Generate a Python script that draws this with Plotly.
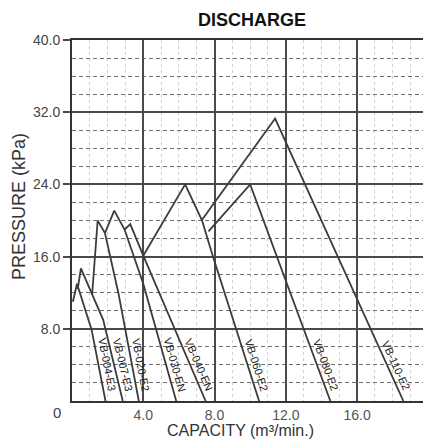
import math
import plotly.graph_objects as go

# ---- data ----
models = ["VB-004-E3", "VB-007-E3", "VB-020-E2", "VB-030-EN",
          "VB-040-EN", "VB-060-E2", "VB-080-E2", "VB-110-E2"]
cap = [
    [0.05, 0.28, 1.10, 1.88],
    [0.32, 0.50, 1.75, 2.85],
    [1.13, 1.44, 1.85, 2.60, 3.75],
    [1.85, 2.37, 2.95, 4.00, 5.85],
    [2.95, 3.27, 4.00, 7.50],
    [4.00, 6.35, 7.30, 7.85, 10.50],
    [7.66, 10.00, 14.50],
    [7.29, 11.40, 18.60],
]
pres = [
    [11.0, 13.0, 7.9, 0.0],
    [12.4, 14.7, 9.0, 0.0],
    [11.8, 20.0, 18.6, 12.0, 0.0],
    [18.6, 21.1, 19.0, 13.0, 0.0],
    [19.0, 19.6, 16.1, 0.0],
    [16.1, 24.0, 20.0, 16.4, 0.0],
    [18.8, 24.0, 0.0],
    [20.05, 31.3, 0.0],
]

y_ticks = [8, 16, 24, 32, 40]
y_tick_text = ["8.0", "16.0", "24.0", "32.0", "40.0"]
x_ticks = [4, 8, 12, 16]
x_tick_text = ["4.0", "8.0", "12.0", "16.0"]

FONT = "Liberation Sans, Arial, sans-serif"
LINE = "#3c3c3c"
X_RANGE = [0, 19.7]
Y_RANGE = [0, 40]
W, H = 424, 439
ML, MR, MT, MB = 72, 1, 40, 38
PX_X = (W - ML - MR) / (X_RANGE[1] - X_RANGE[0])
PX_Y = (H - MT - MB) / (Y_RANGE[1] - Y_RANGE[0])

fig = go.Figure()
for m, xs, ys in zip(models, cap, pres):
    fig.add_trace(go.Scatter(x=xs, y=ys, mode="lines", name=m,
                             line=dict(color=LINE, width=1.8),
                             showlegend=False, hoverinfo="skip"))

# labels sit alongside the last (descending) segment of each curve
LABEL_LEVEL = 4.0
for m, xs, ys in zip(models, cap, pres):
    x1, y1, x2, y2 = xs[-2], ys[-2], xs[-1], ys[-1]
    t = (y1 - LABEL_LEVEL) / (y1 - y2)
    lx = x1 + (x2 - x1) * t
    ang = math.degrees(math.atan2((y1 - y2) * PX_Y, (x2 - x1) * PX_X))
    fig.add_annotation(x=lx, y=LABEL_LEVEL, text=m, showarrow=False,
                       textangle=ang, xshift=9,
                       font=dict(family=FONT, size=11, color="#222"))

fig.add_annotation(xref="paper", yref="paper", x=0.513, y=1.055,
                   xanchor="center", yanchor="middle",
                   text="<b>DISCHARGE</b>", showarrow=False,
                   font=dict(family=FONT, size=18, color="#111"))
fig.add_annotation(xref="paper", yref="paper", x=-0.151, y=0.54,
                   xanchor="center", yanchor="middle",
                   text="PRESSURE (kPa)", showarrow=False, textangle=-90,
                   font=dict(family=FONT, size=18, color="#333"))
fig.add_annotation(xref="paper", yref="paper", x=0.481, y=-0.083,
                   xanchor="center", yanchor="middle",
                   text="CAPACITY (m³/min.)", showarrow=False,
                   font=dict(family=FONT, size=16, color="#333"))
fig.add_annotation(xref="paper", yref="paper", x=-0.043, y=-0.033,
                   xanchor="center", yanchor="middle",
                   text="0", showarrow=False,
                   font=dict(family=FONT, size=15, color="#444"))

fig.update_xaxes(range=X_RANGE, tickvals=x_ticks, ticktext=x_tick_text,
                 showgrid=True, gridcolor="#4a4a4a", gridwidth=1.5,
                 showline=True, linecolor="#333", linewidth=2, mirror=True,
                 zeroline=False, ticks="",
                 tickfont=dict(family=FONT, size=14, color="#555"),
                 minor=dict(dtick=1, showgrid=True, gridcolor="#d0d0d0",
                            griddash="dot", gridwidth=1))
fig.update_yaxes(range=Y_RANGE, tickvals=y_ticks, ticktext=y_tick_text,
                 showgrid=True, gridcolor="#4a4a4a", gridwidth=1.5,
                 showline=True, linecolor="#333", linewidth=2, mirror=False,
                 zeroline=False, ticks="outside", ticklen=7, tickcolor="#4a4a4a",
                 tickwidth=1.5,
                 tickfont=dict(family=FONT, size=14, color="#444"),
                 minor=dict(dtick=2, showgrid=True, gridcolor="#707070",
                            griddash="4px,3px", gridwidth=1))

fig.update_layout(width=W, height=H,
                  margin=dict(l=ML, r=MR, t=MT, b=MB),
                  plot_bgcolor="white", paper_bgcolor="white")

fig.write_html("out.html")
